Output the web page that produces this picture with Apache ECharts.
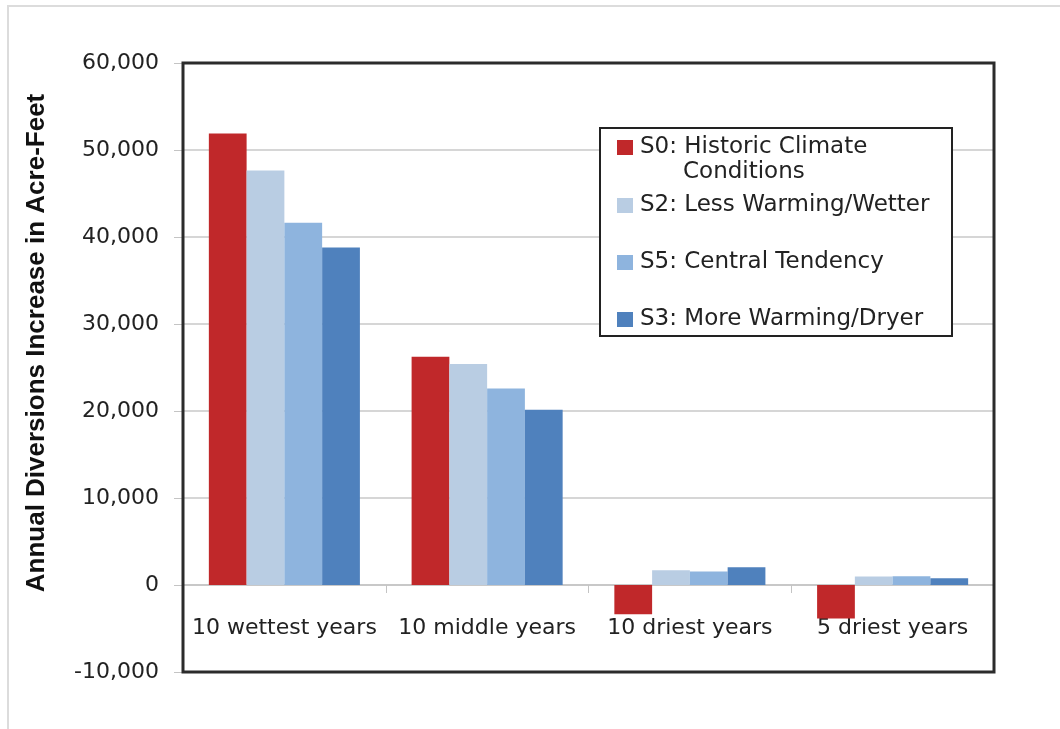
<!DOCTYPE html>
<html>
<head>
<meta charset="utf-8">
<script src="https://cdn.jsdelivr.net/npm/echarts@6/dist/echarts.min.js"></script>
<style>
  html, body { margin: 0; padding: 0; background: #fff; }
  #chart { width: 1060px; height: 729px; }
</style>
</head>
<body>
<div id="chart"></div>
<script>
// data
const categories = ['10 wettest years', '10 middle years', '10 driest years', '5 driest years'];
const seriesNames = ['S0: Historic Climate Conditions', 'S2: Less Warming/Wetter', 'S5: Central Tendency', 'S3: More Warming/Dryer'];
const s0Values = [51900, 26250, -3350, -3850];
const s2Values = [47650, 25400, 1700, 970];
const s5Values = [41650, 22600, 1550, 1000];
const s3Values = [38800, 20150, 2050, 780];
const colors = ['#C0282A', '#B9CDE3', '#8EB4DE', '#4F81BD'];

const font = 'DejaVu Sans';
const chart = echarts.init(document.getElementById('chart'));

const allValues = [s0Values, s2Values, s5Values, s3Values];
const series = seriesNames.map(function (name, i) {
  return {
    name: name,
    type: 'bar',
    data: allValues[i],
    barGap: '0%',
    barCategoryGap: '25.5%',
    itemStyle: { color: colors[i] },
    z: 3
  };
});

// one legend block per entry, spacing in the original is uneven
const legendCenters = [147, 205, 262, 319];
const legends = seriesNames.map(function (name, i) {
  return {
    data: [name],
    left: 617,
    top: legendCenters[i] - 11,
    padding: 0,
    itemWidth: 16,
    itemHeight: 15,
    icon: 'rect',
    selectedMode: false,
    z: 100,
    formatter: function (n) { return n === seriesNames[0] ? 'S0: Historic Climate' : n; },
    textStyle: { fontFamily: font, fontSize: 23, color: '#222', lineHeight: 22, padding: [0, 0, 0, 2] }
  };
});

chart.setOption({
  animation: false,
  backgroundColor: '#fff',
  grid: { left: 183, right: 66, top: 63, bottom: 57 },
  legend: legends,
  xAxis: {
    type: 'category',
    data: categories,
    axisLine: { onZero: true, lineStyle: { color: '#c4c4c4', width: 1.5 } },
    axisTick: { show: true, interval: 0, length: 8, lineStyle: { color: '#c4c4c4' } },
    axisLabel: { interval: 0, fontFamily: font, fontSize: 22, color: '#222', margin: -55 }
  },
  yAxis: {
    type: 'value',
    min: -10000,
    max: 60000,
    interval: 10000,
    axisLine: { show: false },
    axisTick: { show: true, length: 9, lineStyle: { color: '#c4c4c4' } },
    splitLine: { lineStyle: { color: '#c8c8c8', width: 1.5 } },
    axisLabel: {
      fontFamily: font, fontSize: 22, color: '#222', margin: 24,
      formatter: function (v) { return v.toLocaleString('en-US'); }
    }
  },
  series: series,
  graphic: [
    {
      type: 'rect', z: 1,
      shape: { x: 8, y: 6, width: 1100, height: 800 },
      style: { fill: 'none', stroke: '#dcdcdc', lineWidth: 2 }
    },
    {
      // plot frame
      type: 'rect', z: 60,
      shape: { x: 183, y: 63, width: 811, height: 609 },
      style: { fill: 'none', stroke: '#2b2b2b', lineWidth: 3 }
    },
    {
      type: 'rect', z: 50,
      shape: { x: 600, y: 128, width: 352, height: 208 },
      style: { fill: '#fff', stroke: '#222', lineWidth: 2 }
    },
    {
      type: 'text', z: 100,
      x: 683, y: 172,
      style: { text: 'Conditions', fontFamily: font, fontSize: 23, fill: '#222', verticalAlign: 'middle' }
    },
    {
      type: 'text', z: 100,
      x: 37, y: 343, rotation: Math.PI / 2,
      style: {
        text: 'Annual Diversions Increase in Acre-Feet',
        fontFamily: 'Liberation Sans', fontWeight: 'bold', fontSize: 26, fill: '#111',
        align: 'center', verticalAlign: 'middle'
      }
    }
  ]
});
</script>
</body>
</html>
